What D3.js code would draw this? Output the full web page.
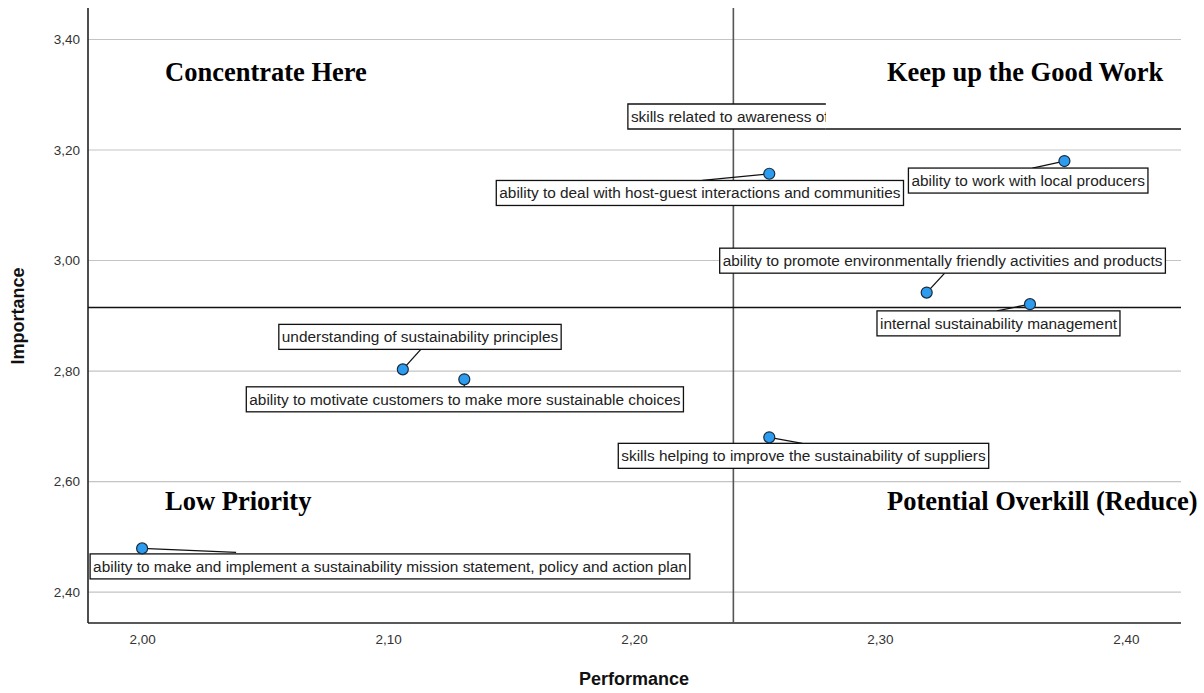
<!DOCTYPE html>
<html><head><meta charset="utf-8">
<script src="https://cdn.jsdelivr.net/npm/d3@7"></script>
<style>
html,body{margin:0;padding:0;background:#fff;}
svg{display:block;}
</style></head>
<body>
<svg id="chart" width="1204" height="693"></svg>
<script>
// ---- data ----
const items = [
  "ability to make and implement a sustainability mission statement, policy and action plan",
  "understanding of sustainability principles",
  "ability to motivate customers to make more sustainable choices",
  "skills helping to improve the sustainability of suppliers",
  "ability to deal with host-guest interactions and communities",
  "ability to work with local producers",
  "ability to promote environmentally friendly activities and products",
  "internal sustainability management",
  "skills related to awareness of sustainability issues"
];
const performance = [2.000, 2.106, 2.131, 2.255, 2.255, 2.375, 2.319, 2.361, 2.450];
const importance  = [2.479, 2.803, 2.785, 2.680, 3.157, 3.180, 2.942, 2.921, 3.238];
const xTicks = [2.00, 2.10, 2.20, 2.30, 2.40];
const yTicks = [2.40, 2.60, 2.80, 3.00, 3.20, 3.40];
const meanPerformance = 2.2404;
const meanImportance = 2.915;
const quadrants = ["Concentrate Here", "Keep up the Good Work", "Low Priority", "Potential Overkill (Reduce)"];

// ---- layout (label box offsets relative to point, leader end relative to point) ----
const labelLayout = [
  {dx:-52,  dy:5.5,  lx:94,  ly:4},
  {dx:-124, dy:-45,  lx:18,  ly:-20},
  {dx:-218, dy:7.5,  lx:0,   ly:7.5},
  {dx:-151, dy:6,    lx:33,  ly:6},
  {dx:-273, dy:6.7,  lx:-67, ly:6.7},
  {dx:-156, dy:7,    lx:-32, ly:7},
  {dx:-207, dy:-44.4,lx:18,  ly:-19.4},
  {dx:-153, dy:6.7,  lx:-33, ly:6.7},
  {dx:-621, dy:-25,  lx:-423,ly:0, clipW:198}
];
const quadPos = [[165,81],[887,81],[165,510],[887,510]];

const svg = d3.select("#chart");
const L = 88, R = 1181, T = 8, B = 623;
const x = d3.scaleLinear().domain([1.978, 2.4224]).range([L, R]);
const y = d3.scaleLinear().domain([2.344, 3.457]).range([B, T]);
const labelFont = 15.4;

svg.append("defs").append("clipPath").attr("id","plotclip")
  .append("rect").attr("x",L).attr("y",T).attr("width",R-L).attr("height",B-T);

// gridlines
svg.append("g").selectAll("line").data(yTicks).join("line")
  .attr("x1",L).attr("x2",R).attr("y1",d=>y(d)).attr("y2",d=>y(d))
  .attr("stroke","#c4c4c4").attr("stroke-width",1.2);

// axes
const fmt = d=>d3.format(".2f")(d).replace(".",",");
const yAxis = svg.append("g").attr("transform",`translate(${L},0)`)
  .call(d3.axisLeft(y).tickValues(yTicks).tickSize(0).tickPadding(8).tickFormat(fmt));
const xAxis = svg.append("g").attr("transform",`translate(0,${B})`)
  .call(d3.axisBottom(x).tickValues(xTicks).tickSize(0).tickPadding(11).tickFormat(fmt));
[yAxis,xAxis].forEach(a=>{
  a.select(".domain").remove();
  a.attr("font-size",13.5).attr("font-family","'Liberation Sans', Arial, sans-serif");
  a.selectAll("text").attr("fill","#333");
});
svg.append("line").attr("x1",L).attr("x2",L).attr("y1",T).attr("y2",B).attr("stroke","#222").attr("stroke-width",1.6);
svg.append("line").attr("x1",L).attr("x2",R).attr("y1",B).attr("y2",B).attr("stroke","#222").attr("stroke-width",1.6);

// reference lines
svg.append("line").attr("x1",x(meanPerformance)).attr("x2",x(meanPerformance)).attr("y1",T).attr("y2",B)
  .attr("stroke","#555").attr("stroke-width",1.6);
svg.append("line").attr("x1",L).attr("x2",R).attr("y1",y(meanImportance)).attr("y2",y(meanImportance))
  .attr("stroke","#111").attr("stroke-width",1.4);

// axis titles
svg.append("text").attr("x",634).attr("y",685).attr("text-anchor","middle")
  .attr("font-family","'Liberation Sans', Arial, sans-serif").attr("font-weight","bold").attr("font-size",18).attr("fill","#111")
  .text("Performance");
svg.append("text").attr("transform","translate(24,316) rotate(-90)").attr("text-anchor","middle")
  .attr("font-family","'Liberation Sans', Arial, sans-serif").attr("font-weight","bold").attr("font-size",18).attr("fill","#111")
  .text("Importance");

// quadrant labels
svg.append("g").selectAll("text").data(quadrants).join("text")
  .attr("x",(d,i)=>quadPos[i][0]).attr("y",(d,i)=>quadPos[i][1])
  .attr("font-family","'Liberation Serif', 'Times New Roman', serif").attr("font-weight","bold").attr("font-size",26.5).attr("fill","#000")
  .text(d=>d);

// points + labels
const plot = svg.append("g").attr("clip-path","url(#plotclip)");
const data = items.map((t,i)=>({t, px:x(performance[i]), py:y(importance[i]), lay:labelLayout[i], i}));

data.forEach(d=>{
  const bx = d.px + d.lay.dx, by = d.py + d.lay.dy;
  plot.append("line").attr("x1",d.px).attr("y1",d.py).attr("x2",d.px+d.lay.lx).attr("y2",d.py+d.lay.ly)
    .attr("stroke","#111").attr("stroke-width",1.3);
  const g = plot.append("g");
  if (d.lay.clipW) {
    const cid = "lc"+d.i;
    svg.select("defs").append("clipPath").attr("id",cid).append("rect")
      .attr("x",bx-2).attr("y",by-2).attr("width",d.lay.clipW+2).attr("height",30);
    const cg = g.append("g").attr("clip-path",`url(#${cid})`);
    cg.append("path").attr("d",`M${bx+d.lay.clipW},${by}H${bx}V${by+25}H${bx+d.lay.clipW}`)
      .attr("fill","#fff").attr("stroke","#111").attr("stroke-width",1.3);
    cg.append("text").attr("x",bx+3).attr("y",by+18)
      .attr("font-family","'Liberation Sans', Arial, sans-serif").attr("font-size",labelFont).attr("fill","#222").text(d.t);
    return;
  }
  const rect = g.append("rect").attr("x",bx).attr("y",by).attr("height",25)
    .attr("fill","#fff").attr("stroke","#111").attr("stroke-width",1.3);
  const txt = g.append("text").attr("x",bx+3).attr("y",by+18)
    .attr("font-family","'Liberation Sans', Arial, sans-serif").attr("font-size",labelFont).attr("fill","#222").text(d.t);
  rect.attr("width", txt.node().getComputedTextLength()+6);
});

plot.selectAll("circle").data(data).join("circle")
  .attr("cx",d=>d.px).attr("cy",d=>d.py).attr("r",5.5)
  .attr("fill","#2b9cf0").attr("stroke","#1b2a3a").attr("stroke-width",1.2);
</script>
</body></html>
